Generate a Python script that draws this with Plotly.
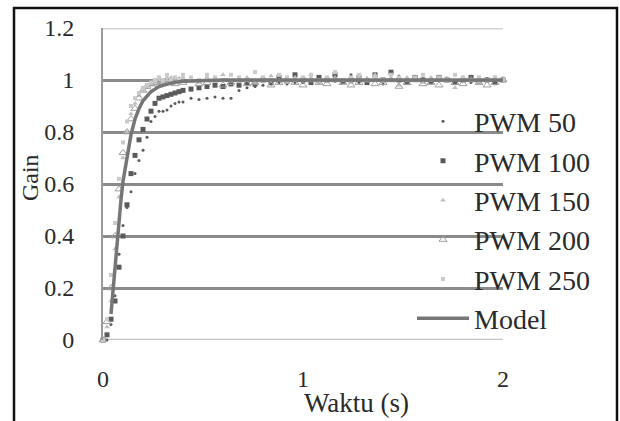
import plotly.graph_objects as go

# ---- data ----
time_s = [0.00, 0.02, 0.04, 0.06, 0.08, 0.10, 0.12, 0.14, 0.16, 0.18, 0.20,
          0.22, 0.24, 0.26, 0.28, 0.30, 0.32, 0.34, 0.36, 0.38, 0.40,
          0.44, 0.48, 0.52, 0.56, 0.60, 0.64, 0.68, 0.72, 0.76, 0.80,
          0.84, 0.88, 0.92, 0.96, 1.00, 1.04, 1.08, 1.12, 1.16, 1.20,
          1.24, 1.28, 1.32, 1.36, 1.40, 1.44, 1.48, 1.52, 1.56, 1.60,
          1.64, 1.68, 1.72, 1.76, 1.80, 1.84, 1.88, 1.92, 1.96, 2.00]

pwm50 = [0.00, 0.00, 0.06, 0.17, 0.33, 0.44, 0.51, 0.57, 0.64, 0.69, 0.73,
         0.78, 0.84, 0.86, 0.88, 0.88, 0.885, 0.90, 0.91, 0.915, 0.915,
         0.93, 0.925, 0.93, 0.935, 0.93, 0.93, 0.96, 0.97, 0.975, 0.98,
         0.985, 0.99, 0.985, 0.99, 0.99, 1.00, 0.99, 1.01, 0.995, 1.00,
         1.02, 0.99, 1.00, 1.01, 0.985, 1.00, 1.015, 0.99, 1.00, 1.005,
         0.99, 1.01, 1.00, 0.995, 1.01, 0.99, 1.00, 1.005, 0.995, 1.00]

pwm100 = [0.00, 0.02, 0.08, 0.15, 0.28, 0.40, 0.52, 0.64, 0.71, 0.77, 0.81,
          0.85, 0.88, 0.91, 0.93, 0.935, 0.94, 0.945, 0.95, 0.955, 0.96,
          0.965, 0.97, 0.975, 0.98, 0.975, 0.985, 0.98, 0.99, 0.985, 1.00,
          0.99, 1.01, 0.995, 1.02, 1.00, 0.99, 1.01, 1.00, 1.02, 0.995,
          1.00, 1.01, 0.99, 1.02, 1.00, 1.03, 1.00, 0.99, 1.01, 1.00,
          0.995, 1.01, 1.00, 0.99, 1.00, 1.01, 0.995, 1.00, 0.99, 1.00]

pwm150 = [0.00, 0.05, 0.15, 0.35, 0.55, 0.70, 0.80, 0.87, 0.91, 0.94, 0.96,
          0.97, 0.98, 0.99, 1.00, 0.99, 1.00, 1.01, 0.995, 1.00, 1.01,
          1.00, 0.99, 1.01, 1.00, 1.02, 0.995, 1.00, 1.01, 0.99, 1.00,
          1.015, 1.00, 0.99, 1.01, 1.00, 1.02, 0.99, 1.00, 1.01, 1.00,
          0.99, 1.01, 1.00, 1.02, 0.995, 1.00, 0.98, 1.01, 1.00, 0.99,
          1.01, 1.00, 0.995, 0.97, 1.01, 1.00, 0.99, 1.00, 1.01, 1.00]

pwm200 = [0.00, 0.07, 0.20, 0.40, 0.58, 0.72, 0.80, 0.85, 0.89, 0.93, 0.96,
          0.975, 0.985, 0.99, 0.98, 0.99, 1.00, 0.99, 0.985, 1.00, 0.99,
          1.00, 0.985, 0.99, 1.00, 0.98, 0.99, 1.00, 0.985, 0.99, 1.00,
          0.98, 0.99, 1.00, 0.99, 0.98, 1.00, 0.99, 0.985, 1.00, 0.99,
          0.98, 0.99, 1.00, 0.985, 0.99, 1.00, 0.975, 0.99, 1.00, 0.985,
          0.99, 0.98, 1.00, 0.99, 0.985, 1.00, 0.99, 0.98, 0.99, 1.00]

pwm250 = [0.00, 0.08, 0.25, 0.45, 0.62, 0.76, 0.84, 0.90, 0.93, 0.95, 0.97,
          0.98, 0.99, 1.00, 1.01, 1.00, 1.02, 1.00, 1.01, 1.00, 1.02,
          1.01, 1.00, 1.02, 1.01, 1.00, 1.02, 1.01, 1.00, 1.03, 1.01,
          1.00, 1.02, 1.01, 1.00, 1.01, 1.02, 1.00, 1.01, 1.03, 1.00,
          1.01, 1.02, 1.00, 1.01, 1.00, 1.02, 1.01, 1.00, 1.01, 1.02,
          1.00, 1.01, 1.00, 1.02, 1.01, 1.00, 1.01, 1.00, 1.01, 1.00]

model_t = [0.04, 0.05, 0.06, 0.07, 0.08, 0.09, 0.10, 0.12, 0.14, 0.16, 0.18,
           0.20, 0.22, 0.24, 0.26, 0.28, 0.30, 0.35, 0.40, 0.50, 0.60, 0.80,
           1.00, 1.50, 2.00]
model_y = [0.10, 0.19, 0.29, 0.38, 0.46, 0.54, 0.61, 0.71, 0.79, 0.85, 0.89,
           0.92, 0.94, 0.955, 0.965, 0.975, 0.98, 0.99, 0.995, 0.998, 1.0, 1.0,
           1.0, 1.0, 1.0]

x_ticks = [0, 1, 2]
y_ticks = [0, 0.2, 0.4, 0.6, 0.8, 1.0, 1.2]

FONT = "Liberation Serif"
TXT = "#2a2a2a"

fig = go.Figure()

series = [
    ("PWM 50", pwm50, dict(symbol="circle", size=3, color="#5a5a5a")),
    ("PWM 100", pwm100, dict(symbol="square", size=5, color="#5a5a5a")),
    ("PWM 150", pwm150, dict(symbol="triangle-up", size=5, color="#c0c0c0")),
    ("PWM 200", pwm200, dict(symbol="triangle-up-open", size=7, color="#a0a0a0",
                             line=dict(width=1, color="#a0a0a0"))),
    ("PWM 250", pwm250, dict(symbol="square", size=4, color="#cacaca")),
]
for name, vals, mk in series:
    fig.add_trace(go.Scatter(x=time_s, y=vals, mode="markers", name=name,
                             marker=mk, cliponaxis=False))

fig.add_trace(go.Scatter(x=model_t, y=model_y, mode="lines", name="Model",
                         line=dict(color="#767676", width=3.5)))

fig.update_layout(
    width=620, height=421,
    margin=dict(l=103, r=117, t=28, b=81),
    paper_bgcolor="white", plot_bgcolor="white",
    font=dict(family=FONT, color=TXT),
    showlegend=True,
    legend=dict(x=0.7725, y=0.78, xanchor="left", yanchor="top",
                bgcolor="rgba(0,0,0,0)", font=dict(family=FONT, size=28, color=TXT),
                itemwidth=52, tracegroupgap=0),
    xaxis=dict(range=[0, 2], tickvals=x_ticks, showgrid=False, zeroline=False,
               showline=False, ticks="", ticklabelstandoff=22,
               tickfont=dict(family=FONT, size=24, color=TXT)),
    yaxis=dict(range=[0, 1.2], tickvals=y_ticks, showgrid=True, gridcolor="#8a8a8a",
               gridwidth=2.5, zeroline=False, showline=True, linecolor="#9a9a9a",
               linewidth=2, ticks="", ticklabelstandoff=22,
               tickfont=dict(family=FONT, size=24, color=TXT)),
    shapes=[
        dict(type="line", xref="paper", yref="y", x0=0, x1=1, y0=1.2, y1=1.2,
             line=dict(color="#d4d4d4", width=3), layer="below"),
        dict(type="line", xref="paper", yref="y", x0=0, x1=1, y0=0, y1=0,
             line=dict(color="#c4c4c4", width=2.5), layer="below"),
        dict(type="rect", xref="paper", yref="paper", x0=-0.2225, x1=1.285,
             y0=-0.7, y1=1.064, line=dict(color="#111111", width=2.5)),
    ],
    annotations=[
        dict(text="Gain", xref="paper", yref="paper", x=-0.1825, y=0.519,
             xanchor="center", yanchor="middle",
             textangle=-90, showarrow=False, font=dict(family=FONT, size=24, color=TXT)),
        dict(text="Waktu (s)", xref="paper", yref="paper", x=0.6325, y=-0.203,
             xanchor="center", yanchor="middle",
             showarrow=False, font=dict(family=FONT, size=27, color=TXT)),
    ],
)

fig.write_html("out.html")
